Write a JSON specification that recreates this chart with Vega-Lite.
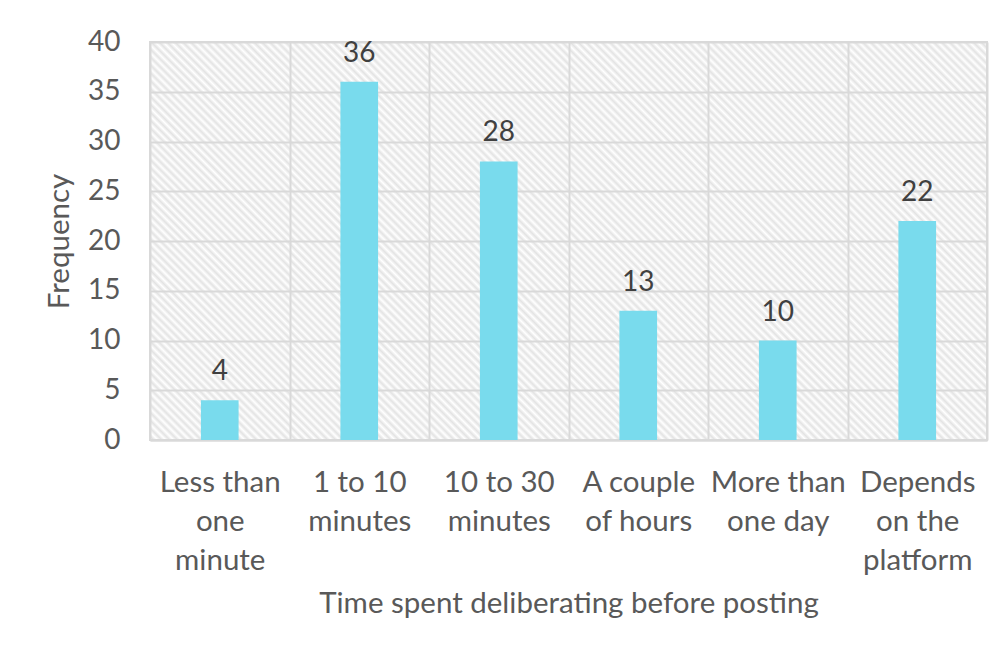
{
  "$schema": "https://vega.github.io/schema/vega-lite/v6.json",
  "width": 837,
  "height": 398,
  "autosize": {"type": "none"},
  "padding": {"left": 150, "top": 42, "right": 16, "bottom": 211},
  "background": "#ffffff",
  "view": {
    "stroke": "#d9d9d9",
    "strokeWidth": 2,
    "fill": {
      "gradient": "linear",
      "x1": 0, "y1": 1, "x2": 1.2034, "y2": 0.4278,
      "stops": [
{"offset":0,"color":"#fff"},{"offset":0.0032,"color":"#e3e3e3"},{"offset":0.0064,"color":"#fff"},{"offset":0.0096,"color":"#e3e3e3"},{"offset":0.0128,"color":"#fff"},{"offset":0.016,"color":"#e3e3e3"},{"offset":0.0192,"color":"#fff"},{"offset":0.0224,"color":"#e3e3e3"},{"offset":0.0256,"color":"#fff"},{"offset":0.0288,"color":"#e3e3e3"},
{"offset":0.032,"color":"#fff"},{"offset":0.0352,"color":"#e3e3e3"},{"offset":0.0384,"color":"#fff"},{"offset":0.0416,"color":"#e3e3e3"},{"offset":0.0448,"color":"#fff"},{"offset":0.048,"color":"#e3e3e3"},{"offset":0.0512,"color":"#fff"},{"offset":0.0544,"color":"#e3e3e3"},{"offset":0.0576,"color":"#fff"},{"offset":0.0608,"color":"#e3e3e3"},
{"offset":0.064,"color":"#fff"},{"offset":0.0672,"color":"#e3e3e3"},{"offset":0.0704,"color":"#fff"},{"offset":0.0736,"color":"#e3e3e3"},{"offset":0.0768,"color":"#fff"},{"offset":0.08,"color":"#e3e3e3"},{"offset":0.0832,"color":"#fff"},{"offset":0.0864,"color":"#e3e3e3"},{"offset":0.0896,"color":"#fff"},{"offset":0.0928,"color":"#e3e3e3"},
{"offset":0.096,"color":"#fff"},{"offset":0.0992,"color":"#e3e3e3"},{"offset":0.1024,"color":"#fff"},{"offset":0.1056,"color":"#e3e3e3"},{"offset":0.1088,"color":"#fff"},{"offset":0.112,"color":"#e3e3e3"},{"offset":0.1152,"color":"#fff"},{"offset":0.1184,"color":"#e3e3e3"},{"offset":0.1216,"color":"#fff"},{"offset":0.1248,"color":"#e3e3e3"},
{"offset":0.128,"color":"#fff"},{"offset":0.1312,"color":"#e3e3e3"},{"offset":0.1344,"color":"#fff"},{"offset":0.1376,"color":"#e3e3e3"},{"offset":0.1408,"color":"#fff"},{"offset":0.144,"color":"#e3e3e3"},{"offset":0.1472,"color":"#fff"},{"offset":0.1504,"color":"#e3e3e3"},{"offset":0.1536,"color":"#fff"},{"offset":0.1568,"color":"#e3e3e3"},
{"offset":0.16,"color":"#fff"},{"offset":0.1632,"color":"#e3e3e3"},{"offset":0.1664,"color":"#fff"},{"offset":0.1696,"color":"#e3e3e3"},{"offset":0.1728,"color":"#fff"},{"offset":0.176,"color":"#e3e3e3"},{"offset":0.1792,"color":"#fff"},{"offset":0.1824,"color":"#e3e3e3"},{"offset":0.1856,"color":"#fff"},{"offset":0.1888,"color":"#e3e3e3"},
{"offset":0.192,"color":"#fff"},{"offset":0.1952,"color":"#e3e3e3"},{"offset":0.1984,"color":"#fff"},{"offset":0.2016,"color":"#e3e3e3"},{"offset":0.2048,"color":"#fff"},{"offset":0.208,"color":"#e3e3e3"},{"offset":0.2112,"color":"#fff"},{"offset":0.2144,"color":"#e3e3e3"},{"offset":0.2176,"color":"#fff"},{"offset":0.2208,"color":"#e3e3e3"},
{"offset":0.224,"color":"#fff"},{"offset":0.2272,"color":"#e3e3e3"},{"offset":0.2304,"color":"#fff"},{"offset":0.2336,"color":"#e3e3e3"},{"offset":0.2368,"color":"#fff"},{"offset":0.24,"color":"#e3e3e3"},{"offset":0.2432,"color":"#fff"},{"offset":0.2464,"color":"#e3e3e3"},{"offset":0.2496,"color":"#fff"},{"offset":0.2528,"color":"#e3e3e3"},
{"offset":0.256,"color":"#fff"},{"offset":0.2592,"color":"#e3e3e3"},{"offset":0.2624,"color":"#fff"},{"offset":0.2656,"color":"#e3e3e3"},{"offset":0.2688,"color":"#fff"},{"offset":0.272,"color":"#e3e3e3"},{"offset":0.2752,"color":"#fff"},{"offset":0.2784,"color":"#e3e3e3"},{"offset":0.2816,"color":"#fff"},{"offset":0.2848,"color":"#e3e3e3"},
{"offset":0.288,"color":"#fff"},{"offset":0.2912,"color":"#e3e3e3"},{"offset":0.2944,"color":"#fff"},{"offset":0.2976,"color":"#e3e3e3"},{"offset":0.3008,"color":"#fff"},{"offset":0.304,"color":"#e3e3e3"},{"offset":0.3072,"color":"#fff"},{"offset":0.3104,"color":"#e3e3e3"},{"offset":0.3136,"color":"#fff"},{"offset":0.3168,"color":"#e3e3e3"},
{"offset":0.32,"color":"#fff"},{"offset":0.3232,"color":"#e3e3e3"},{"offset":0.3264,"color":"#fff"},{"offset":0.3296,"color":"#e3e3e3"},{"offset":0.3328,"color":"#fff"},{"offset":0.336,"color":"#e3e3e3"},{"offset":0.3392,"color":"#fff"},{"offset":0.3424,"color":"#e3e3e3"},{"offset":0.3456,"color":"#fff"},{"offset":0.3488,"color":"#e3e3e3"},
{"offset":0.352,"color":"#fff"},{"offset":0.3552,"color":"#e3e3e3"},{"offset":0.3584,"color":"#fff"},{"offset":0.3616,"color":"#e3e3e3"},{"offset":0.3648,"color":"#fff"},{"offset":0.368,"color":"#e3e3e3"},{"offset":0.3712,"color":"#fff"},{"offset":0.3744,"color":"#e3e3e3"},{"offset":0.3776,"color":"#fff"},{"offset":0.3808,"color":"#e3e3e3"},
{"offset":0.384,"color":"#fff"},{"offset":0.3872,"color":"#e3e3e3"},{"offset":0.3904,"color":"#fff"},{"offset":0.3936,"color":"#e3e3e3"},{"offset":0.3968,"color":"#fff"},{"offset":0.4,"color":"#e3e3e3"},{"offset":0.4032,"color":"#fff"},{"offset":0.4064,"color":"#e3e3e3"},{"offset":0.4096,"color":"#fff"},{"offset":0.4128,"color":"#e3e3e3"},
{"offset":0.416,"color":"#fff"},{"offset":0.4192,"color":"#e3e3e3"},{"offset":0.4224,"color":"#fff"},{"offset":0.4256,"color":"#e3e3e3"},{"offset":0.4288,"color":"#fff"},{"offset":0.432,"color":"#e3e3e3"},{"offset":0.4352,"color":"#fff"},{"offset":0.4384,"color":"#e3e3e3"},{"offset":0.4416,"color":"#fff"},{"offset":0.4448,"color":"#e3e3e3"},
{"offset":0.448,"color":"#fff"},{"offset":0.4512,"color":"#e3e3e3"},{"offset":0.4544,"color":"#fff"},{"offset":0.4576,"color":"#e3e3e3"},{"offset":0.4608,"color":"#fff"},{"offset":0.464,"color":"#e3e3e3"},{"offset":0.4672,"color":"#fff"},{"offset":0.4704,"color":"#e3e3e3"},{"offset":0.4736,"color":"#fff"},{"offset":0.4768,"color":"#e3e3e3"},
{"offset":0.48,"color":"#fff"},{"offset":0.4832,"color":"#e3e3e3"},{"offset":0.4864,"color":"#fff"},{"offset":0.4896,"color":"#e3e3e3"},{"offset":0.4928,"color":"#fff"},{"offset":0.496,"color":"#e3e3e3"},{"offset":0.4992,"color":"#fff"},{"offset":0.5024,"color":"#e3e3e3"},{"offset":0.5056,"color":"#fff"},{"offset":0.5088,"color":"#e3e3e3"},
{"offset":0.512,"color":"#fff"},{"offset":0.5152,"color":"#e3e3e3"},{"offset":0.5184,"color":"#fff"},{"offset":0.5216,"color":"#e3e3e3"},{"offset":0.5248,"color":"#fff"},{"offset":0.528,"color":"#e3e3e3"},{"offset":0.5312,"color":"#fff"},{"offset":0.5344,"color":"#e3e3e3"},{"offset":0.5376,"color":"#fff"},{"offset":0.5408,"color":"#e3e3e3"},
{"offset":0.544,"color":"#fff"},{"offset":0.5472,"color":"#e3e3e3"},{"offset":0.5504,"color":"#fff"},{"offset":0.5536,"color":"#e3e3e3"},{"offset":0.5568,"color":"#fff"},{"offset":0.56,"color":"#e3e3e3"},{"offset":0.5632,"color":"#fff"},{"offset":0.5664,"color":"#e3e3e3"},{"offset":0.5696,"color":"#fff"},{"offset":0.5728,"color":"#e3e3e3"},
{"offset":0.576,"color":"#fff"},{"offset":0.5792,"color":"#e3e3e3"},{"offset":0.5824,"color":"#fff"},{"offset":0.5856,"color":"#e3e3e3"},{"offset":0.5888,"color":"#fff"},{"offset":0.592,"color":"#e3e3e3"},{"offset":0.5952,"color":"#fff"},{"offset":0.5984,"color":"#e3e3e3"},{"offset":0.6016,"color":"#fff"},{"offset":0.6048,"color":"#e3e3e3"},
{"offset":0.608,"color":"#fff"},{"offset":0.6112,"color":"#e3e3e3"},{"offset":0.6144,"color":"#fff"},{"offset":0.6176,"color":"#e3e3e3"},{"offset":0.6208,"color":"#fff"},{"offset":0.624,"color":"#e3e3e3"},{"offset":0.6272,"color":"#fff"},{"offset":0.6304,"color":"#e3e3e3"},{"offset":0.6336,"color":"#fff"},{"offset":0.6368,"color":"#e3e3e3"},
{"offset":0.64,"color":"#fff"},{"offset":0.6432,"color":"#e3e3e3"},{"offset":0.6464,"color":"#fff"},{"offset":0.6496,"color":"#e3e3e3"},{"offset":0.6528,"color":"#fff"},{"offset":0.656,"color":"#e3e3e3"},{"offset":0.6592,"color":"#fff"},{"offset":0.6624,"color":"#e3e3e3"},{"offset":0.6656,"color":"#fff"},{"offset":0.6688,"color":"#e3e3e3"},
{"offset":0.672,"color":"#fff"},{"offset":0.6752,"color":"#e3e3e3"},{"offset":0.6784,"color":"#fff"},{"offset":0.6816,"color":"#e3e3e3"},{"offset":0.6848,"color":"#fff"},{"offset":0.688,"color":"#e3e3e3"},{"offset":0.6912,"color":"#fff"},{"offset":0.6944,"color":"#e3e3e3"},{"offset":0.6976,"color":"#fff"},{"offset":0.7008,"color":"#e3e3e3"},
{"offset":0.704,"color":"#fff"},{"offset":0.7072,"color":"#e3e3e3"},{"offset":0.7104,"color":"#fff"},{"offset":0.7136,"color":"#e3e3e3"},{"offset":0.7168,"color":"#fff"},{"offset":0.72,"color":"#e3e3e3"},{"offset":0.7232,"color":"#fff"},{"offset":0.7264,"color":"#e3e3e3"},{"offset":0.7296,"color":"#fff"},{"offset":0.7328,"color":"#e3e3e3"},
{"offset":0.736,"color":"#fff"},{"offset":0.7392,"color":"#e3e3e3"},{"offset":0.7424,"color":"#fff"},{"offset":0.7456,"color":"#e3e3e3"},{"offset":0.7488,"color":"#fff"},{"offset":0.752,"color":"#e3e3e3"},{"offset":0.7552,"color":"#fff"},{"offset":0.7584,"color":"#e3e3e3"},{"offset":0.7616,"color":"#fff"},{"offset":0.7648,"color":"#e3e3e3"},
{"offset":0.768,"color":"#fff"},{"offset":0.7712,"color":"#e3e3e3"},{"offset":0.7744,"color":"#fff"},{"offset":0.7776,"color":"#e3e3e3"},{"offset":0.7808,"color":"#fff"},{"offset":0.784,"color":"#e3e3e3"},{"offset":0.7872,"color":"#fff"},{"offset":0.7904,"color":"#e3e3e3"},{"offset":0.7936,"color":"#fff"},{"offset":0.7968,"color":"#e3e3e3"},
{"offset":0.8,"color":"#fff"},{"offset":0.8032,"color":"#e3e3e3"},{"offset":0.8064,"color":"#fff"},{"offset":0.8096,"color":"#e3e3e3"},{"offset":0.8128,"color":"#fff"},{"offset":0.816,"color":"#e3e3e3"},{"offset":0.8192,"color":"#fff"},{"offset":0.8224,"color":"#e3e3e3"},{"offset":0.8256,"color":"#fff"},{"offset":0.8288,"color":"#e3e3e3"},
{"offset":0.832,"color":"#fff"},{"offset":0.8352,"color":"#e3e3e3"},{"offset":0.8384,"color":"#fff"},{"offset":0.8416,"color":"#e3e3e3"},{"offset":0.8448,"color":"#fff"},{"offset":0.848,"color":"#e3e3e3"},{"offset":0.8512,"color":"#fff"},{"offset":0.8544,"color":"#e3e3e3"},{"offset":0.8576,"color":"#fff"},{"offset":0.8608,"color":"#e3e3e3"},
{"offset":0.864,"color":"#fff"},{"offset":0.8672,"color":"#e3e3e3"},{"offset":0.8704,"color":"#fff"},{"offset":0.8736,"color":"#e3e3e3"},{"offset":0.8768,"color":"#fff"},{"offset":0.88,"color":"#e3e3e3"},{"offset":0.8832,"color":"#fff"},{"offset":0.8864,"color":"#e3e3e3"},{"offset":0.8896,"color":"#fff"},{"offset":0.8928,"color":"#e3e3e3"},
{"offset":0.896,"color":"#fff"},{"offset":0.8992,"color":"#e3e3e3"},{"offset":0.9024,"color":"#fff"},{"offset":0.9056,"color":"#e3e3e3"},{"offset":0.9088,"color":"#fff"},{"offset":0.912,"color":"#e3e3e3"},{"offset":0.9152,"color":"#fff"},{"offset":0.9184,"color":"#e3e3e3"},{"offset":0.9216,"color":"#fff"},{"offset":0.9248,"color":"#e3e3e3"},
{"offset":0.928,"color":"#fff"},{"offset":0.9312,"color":"#e3e3e3"},{"offset":0.9344,"color":"#fff"},{"offset":0.9376,"color":"#e3e3e3"},{"offset":0.9408,"color":"#fff"},{"offset":0.944,"color":"#e3e3e3"},{"offset":0.9472,"color":"#fff"},{"offset":0.9504,"color":"#e3e3e3"},{"offset":0.9536,"color":"#fff"},{"offset":0.9568,"color":"#e3e3e3"},
{"offset":0.96,"color":"#fff"},{"offset":0.9632,"color":"#e3e3e3"},{"offset":0.9664,"color":"#fff"},{"offset":0.9696,"color":"#e3e3e3"},{"offset":0.9728,"color":"#fff"},{"offset":0.976,"color":"#e3e3e3"},{"offset":0.9792,"color":"#fff"},{"offset":0.9824,"color":"#e3e3e3"},{"offset":0.9856,"color":"#fff"},{"offset":0.9888,"color":"#e3e3e3"},
{"offset":0.992,"color":"#fff"},{"offset":0.9952,"color":"#e3e3e3"},{"offset":0.9984,"color":"#fff"}
      ]
    }
  },
  "data": {
    "values": [
      {"time": "Less than one minute", "frequency": 4},
      {"time": "1 to 10 minutes", "frequency": 36},
      {"time": "10 to 30 minutes", "frequency": 28},
      {"time": "A couple of hours", "frequency": 13},
      {"time": "More than one day", "frequency": 10},
      {"time": "Depends on the platform", "frequency": 22}
    ]
  },
  "encoding": {
    "x": {
      "field": "time",
      "type": "nominal",
      "sort": null,
      "scale": {"paddingInner": 0, "paddingOuter": 0},
      "axis": {
        "title": "Time spent deliberating before posting",
        "labelExpr": "datum.label == 'Less than one minute' ? ['Less than', 'one', 'minute'] : datum.label == '1 to 10 minutes' ? ['1 to 10', 'minutes'] : datum.label == '10 to 30 minutes' ? ['10 to 30', 'minutes'] : datum.label == 'A couple of hours' ? ['A couple', 'of hours'] : datum.label == 'More than one day' ? ['More than', 'one day'] : datum.label == 'Depends on the platform' ? ['Depends', 'on the', 'platform'] : ''",
        "labelAngle": 0,
        "labelLineHeight": 39,
        "labelPadding": 28,
        "labelFont": "Lato",
        "labelFontSize": 29.5,
        "labelColor": "#595959",
        "labelLimit": 0,
        "ticks": false,
        "tickSize": 0,
        "tickBand": "extent",
        "grid": true,
        "gridColor": "#d9d9d9",
        "gridWidth": 2,
        "domainColor": "#d9d9d9",
        "domainWidth": 2,
        "titleFont": "Lato",
        "titleFontSize": 29.5,
        "titleFontWeight": "normal",
        "titleColor": "#595959",
        "titlePadding": 15
      }
    },
    "y": {
      "field": "frequency",
      "type": "quantitative",
      "scale": {"domain": [0, 40], "nice": false},
      "axis": {
        "title": "Frequency",
        "values": [0, 5, 10, 15, 20, 25, 30, 35, 40],
        "domain": false,
        "ticks": false,
        "tickSize": 0,
        "labelPadding": 30,
        "labelFont": "Lato",
        "labelFontSize": 28,
        "labelColor": "#595959",
        "grid": true,
        "gridColor": "#d9d9d9",
        "gridWidth": 2,
        "titleFont": "Lato",
        "titleFontSize": 29.5,
        "titleFontWeight": "normal",
        "titleColor": "#595959",
        "titlePadding": 13
      }
    }
  },
  "layer": [
    {
      "mark": {"type": "bar", "width": {"band": 0.27}, "color": "#79dbed"}
    },
    {
      "mark": {
        "type": "text",
        "baseline": "alphabetic",
        "dy": -20,
        "font": "Lato",
        "fontSize": 28,
        "color": "#404040"
      },
      "encoding": {
        "text": {"field": "frequency", "type": "quantitative"}
      }
    }
  ]
}
